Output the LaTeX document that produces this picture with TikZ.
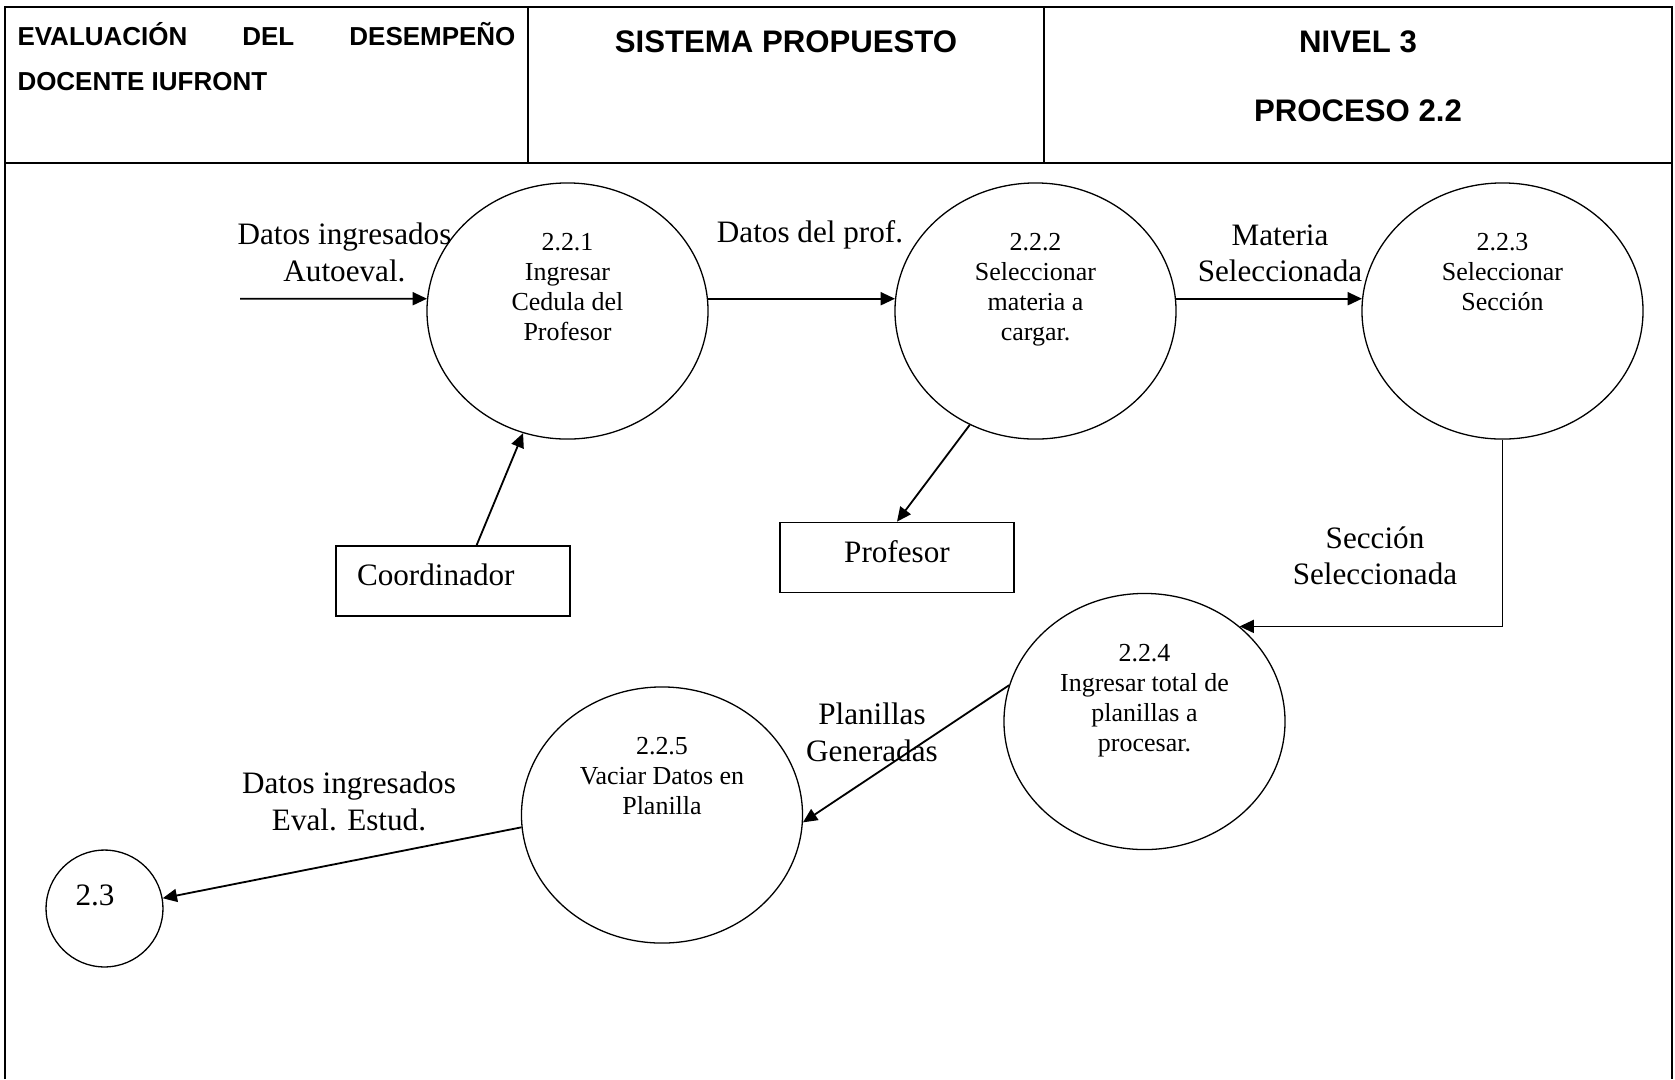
\documentclass[tikz,border=0pt]{standalone}
\usepackage{fontspec}
\setmainfont{Liberation Serif}
\newfontfamily\headfont{Liberation Sans}
\usetikzlibrary{arrows.meta, shapes.geometric}

\begin{document}
\begin{tikzpicture}[x=0.385pt, y=-0.385pt,
    proc/.style={draw, ellipse, line width=0.5pt, minimum width=108.2pt,
                 minimum height=98.6pt, inner sep=0pt},
    ptext/.style={align=center, inner sep=0pt, anchor=north,
                  font=\fontsize{10}{11.55}\selectfont},
    store/.style={draw, rectangle, line width=0.6pt, minimum width=90pt,
                  minimum height=27pt, text depth=4.5pt,
                  font=\fontsize{12}{14}\selectfont},
    flow/.style={-{Triangle[length=5.5pt,width=5pt]}, line width=0.7pt},
    flowlbl/.style={align=center, inner sep=0pt,
                    font=\fontsize{12}{14}\selectfont},
    head/.style={inner sep=0pt, anchor=base,
                 font=\headfont\bfseries\fontsize{12}{14}\selectfont},
    headsm/.style={inner sep=0pt, anchor=base west,
                   font=\headfont\bfseries\fontsize{10}{12}\selectfont}]

\useasboundingbox (0,0) rectangle (1675,1079);

% marco y cabecera
\draw[line width=1pt] (5,1079) -- (5,7) -- (1672,7) -- (1672,1079);
\draw[line width=1pt] (5,163) -- (1672,163);
\draw[line width=0.6pt] (528,7) -- (528,163);
\draw[line width=0.6pt] (1044,7) -- (1044,163);

\node[headsm] (eval) at (17,45.7) {\makebox[191.7pt]{EVALUACIÓN\hfill DEL\hfill DESEMPEÑO}};
\node[headsm] (doc) at (17,90.7) {DOCENTE IUFRONT};
\node[head] (sist) at (786,52.5) {SISTEMA PROPUESTO};
\node[head] (niv) at (1358,52.5) {NIVEL 3};
\node[head] (pro22) at (1358,121.5) {PROCESO 2.2};

% procesos
\node[proc] (c221) at (567.5,311) {};
\node[proc] (c222) at (1035.5,311) {};
\node[proc] (c223) at (1502.5,311) {};
\node[proc] (c224) at (1144.5,721.5) {};
\node[proc] (c225) at (662,815) {};
\node[proc, minimum width=45pt, minimum height=45pt] (c23) at (104.5,908.5) {};

\node[ptext] (t221) at ([yshift=-19.6pt]c221.north) {2.2.1\\Ingresar\\Cedula del\\Profesor};
\node[ptext] (t222) at ([yshift=-19.6pt]c222.north) {2.2.2\\Seleccionar\\materia a\\cargar.};
\node[ptext] (t223) at ([yshift=-19.6pt]c223.north) {2.2.3\\Seleccionar\\Sección};
\node[ptext] (t224) at ([yshift=-19.6pt]c224.north) {2.2.4\\Ingresar total de\\planillas a\\procesar.};
\node[ptext] (t225) at ([yshift=-19.6pt]c225.north) {2.2.5\\Vaciar Datos en\\Planilla};
\node[flowlbl] (t23) at (95,895) {2.3};

% entidades
\node[store, text width=73.9pt, inner xsep=8.1pt, align=left] (coord) at (453,581) {Coordinador};
\node[store] (prof) at (897,557.5) {Profesor};

% flujos
\coordinate (inaut) at (240,298.8);
\draw[flow] (inaut) -- (c221.175);
\draw[flow] (c221.5) -- (c222.175);
\draw[flow] (c222.5) -- (c223.175);
\draw[flow] ([xshift=9.1pt]coord.north) -- (c221.250);
\draw[flow] (c222.240) -- (prof.north);
\draw[flow] (c223.south) |- (c224.45);
\draw[flow] (c224.165) -- (c225.357);
\draw[flow] (c225.185) -- (c23.10);

\node[flowlbl] (l1) at (344.5,252.5) {Datos ingresados\\Autoeval.};
\node[flowlbl] (l2) at (810,235) {Datos del prof.};
\node[flowlbl] (l3) at (1280,253.5) {Materia\\Seleccionada};
\node[flowlbl] (l4) at (1375,555.5) {Sección\\Seleccionada};
\node[flowlbl] (l5) at (872,732.5) {Planillas\\Generadas};
\node[flowlbl] (l6) at (349,801.5) {Datos ingresados\\Eval. Estud.};
\end{tikzpicture}
\end{document}
